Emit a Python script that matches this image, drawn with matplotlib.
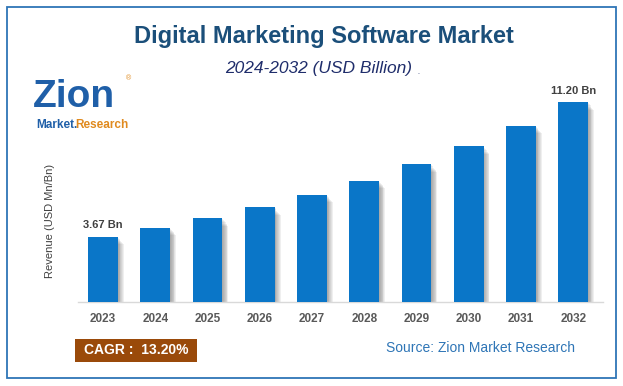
import matplotlib
matplotlib.use('Agg')
import matplotlib.pyplot as plt
from matplotlib.patches import Rectangle
import numpy as np

years = ['2023', '2024', '2025', '2026', '2027', '2028', '2029', '2030', '2031', '2032']
revenue = [3.67, 4.15, 4.70, 5.31, 6.02, 6.81, 7.72, 8.74, 9.88, 11.20]
labels = {0: '3.67 Bn', 9: '11.20 Bn'}

W, H = 623, 386
plt.rcParams['font.family'] = ['Liberation Sans', 'DejaVu Sans']

fig = plt.figure(figsize=(W / 100, H / 100), dpi=100)


def fx(px):
    return px / W


def fy(py):
    return 1 - py / H


# frame
fig.patches.append(Rectangle((fx(7), fy(378)), fx(609), (378 - 7) / H,
                             transform=fig.transFigure, fill=False,
                             edgecolor='#2E75B6', linewidth=1.3))

ax = fig.add_axes([fx(78), fy(302), fx(603) - fx(78), (302 - 80) / H])
x = np.arange(len(years))
bw = 0.57

# soft shadow to the right of each bar
for k in range(1, 8):
    ax.bar(x + k * 0.016, np.array(revenue) - 0.06 * k, width=bw,
           color='#555555', alpha=0.09, zorder=1, linewidth=0)
ax.bar(x, revenue, width=bw, color='#0A76C8', zorder=3, linewidth=0)

for i, t in labels.items():
    ax.text(x[i], revenue[i] + 0.35, t, ha='center', va='bottom',
            fontsize=8, fontweight='bold', color='#404040')

ax.set_xlim(-0.48, 9.57)
ax.set_ylim(0, 12.45)
ax.set_xticks(x)
ax.set_xticklabels(years, fontsize=8.5, fontweight='bold', color='#595959')
ax.tick_params(axis='x', length=0, pad=8)
ax.set_yticks([])
for s in ['top', 'right', 'left']:
    ax.spines[s].set_visible(False)
ax.spines['bottom'].set_color('#D9D9D9')
ax.spines['bottom'].set_linewidth(1)

fig.text(fx(50), fy(221), 'Revenue (USD Mn/Bn)', rotation=90, ha='center',
         va='center', fontsize=8, color='#404040')

# titles
fig.text(fx(324), fy(37), 'Digital Marketing Software Market', ha='center',
         va='center', fontsize=17, fontweight='bold', color='#1B4F7A')
fig.text(fx(319), fy(68), '2024-2032 (USD Billion)', ha='center', va='center',
         fontsize=12.5, style='italic', color='#1F2D6B')
fig.text(fx(418), fy(72), '.', ha='center', va='center', fontsize=5,
         color='#1F2D6B')

# logo
fig.text(fx(33), fy(97), 'Zion', ha='left', va='center', fontsize=28,
         fontweight='bold', color='#1F5FA8')
fig.text(fx(129), fy(79), '®', ha='center', va='center', fontsize=5,
         color='#E08A1E')
fig.text(fx(36), fy(125), 'Market.', ha='left', va='center', fontsize=8.5,
         fontweight='bold', color='#1F5FA8')
fig.text(fx(75), fy(125), 'Research', ha='left', va='center', fontsize=8.5,
         fontweight='bold', color='#E08A1E')

# CAGR box
fig.patches.append(Rectangle((fx(75), fy(362)), fx(122), (362 - 339) / H,
                             transform=fig.transFigure, facecolor='#9A4A0A',
                             edgecolor='none'))
fig.text(fx(136), fy(350.5), 'CAGR :  13.20%', ha='center', va='center',
         fontsize=10, fontweight='bold', color='white')

fig.text(fx(480), fy(348), 'Source: Zion Market Research', ha='center',
         va='center', fontsize=10, color='#2E75B6')

fig.savefig('out.png', dpi=100)
